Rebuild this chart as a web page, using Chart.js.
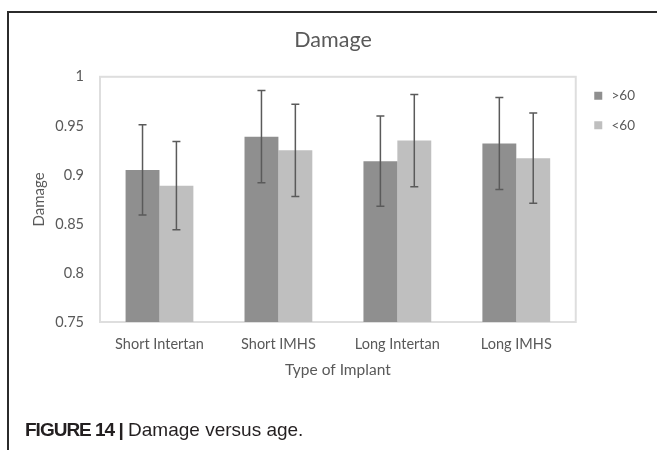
<!DOCTYPE html>
<html>
<head>
<meta charset="utf-8">
<script src="https://cdn.jsdelivr.net/npm/chart.js@4.4.1/dist/chart.umd.min.js"></script>
<style>
  html, body { margin: 0; padding: 0; background: #fff; }
  #wrap { position: relative; width: 657px; height: 450px; overflow: hidden; }
  #frame { position: absolute; left: 7px; top: 11px; width: 660px; height: 450px;
           border-top: 2px solid #2b2b2b; border-left: 2px solid #2b2b2b; }
  #chartBox { position: absolute; left: 0; top: 0; width: 657px; height: 450px; }
  #caption { position: absolute; left: 25px; top: 419px; line-height: 22px;
             font-family: "Liberation Sans Narrow", "Liberation Sans", Arial, sans-serif;
             font-size: 19px; color: #231f20; white-space: nowrap; }
  #caption b { font-weight: bold; letter-spacing: -1px; }
</style>
</head>
<body>
<div id="wrap">
  <div id="frame"></div>
  <div id="chartBox"><canvas id="damageChart"></canvas></div>
  <div id="caption"><b>FIGURE 14 |</b> Damage versus age.</div>
</div>
<script>
// values
const implantTypes = ['Short Intertan', 'Short IMHS', 'Long Intertan', 'Long IMHS'];
const seriesNames = ['>60', '<60'];
const over60 = [0.905, 0.939, 0.914, 0.932];
const under60 = [0.889, 0.925, 0.935, 0.917];
const over60Err = [0.046, 0.047, 0.046, 0.047];
const under60Err = [0.045, 0.047, 0.047, 0.046];
const yTicks = [0.75, 0.8, 0.85, 0.9, 0.95, 1];

const textGrey = '#595959';
const fontFam = 'Lato, "Noto Sans", sans-serif';

// light grey frame round the plot area, like Excel does
const plotBorder = {
    id: 'plotBorder',
    beforeDatasetsDraw(chart) {
        const { ctx, chartArea: a } = chart;
        ctx.save();
        ctx.strokeStyle = '#dedede';
        ctx.lineWidth = 2;
        ctx.strokeRect(a.left, a.top, a.right - a.left, a.bottom - a.top);
        ctx.restore();
    }
};

// error bars, placed with the y scale
const errorBars = {
    id: 'errorBars',
    afterDatasetsDraw(chart) {
        const ctx = chart.ctx;
        const y = chart.scales.y;
        ctx.save();
        ctx.strokeStyle = '#5a5a5a';
        ctx.lineWidth = 1.5;
        chart.data.datasets.forEach((ds, i) => {
            const meta = chart.getDatasetMeta(i);
            meta.data.forEach((bar, j) => {
                const v = ds.data[j];
                const e = ds.errors[j];
                const top = y.getPixelForValue(v + e);
                const bot = y.getPixelForValue(v - e);
                ctx.beginPath();
                ctx.moveTo(bar.x, top); ctx.lineTo(bar.x, bot);
                ctx.moveTo(bar.x - 4, top); ctx.lineTo(bar.x + 4, top);
                ctx.moveTo(bar.x - 4, bot); ctx.lineTo(bar.x + 4, bot);
                ctx.stroke();
            });
        });
        ctx.restore();
    }
};

new Chart(document.getElementById('damageChart'), {
    type: 'bar',
    data: {
        labels: implantTypes,
        datasets: [
            { label: seriesNames[0], data: over60, errors: over60Err, backgroundColor: '#8f8f8f',
              borderWidth: 0, barPercentage: 1, categoryPercentage: 0.57 },
            { label: seriesNames[1], data: under60, errors: under60Err, backgroundColor: '#bfbfbf',
              borderWidth: 0, barPercentage: 1, categoryPercentage: 0.57 }
        ]
    },
    options: {
        responsive: true,
        maintainAspectRatio: false,
        animation: false,
        layout: { padding: { left: 21, right: 12, top: 0, bottom: 60 } },
        plugins: {
            title: {
                display: true, text: 'Damage', color: textGrey,
                font: { family: fontFam, size: 21.5, weight: 'normal' },
                padding: { top: 27, bottom: 24 }
            },
            legend: {
                position: 'right', align: 'start',
                // empty legend title only pushes the entries down beside the plot
                title: { display: true, text: ' ', font: { size: 10 }, padding: { top: 61, bottom: 0 } },
                labels: {
                    usePointStyle: true, pointStyle: 'rect', boxWidth: 13, boxHeight: 8,
                    padding: 16, color: textGrey, font: { family: fontFam, size: 13.5 }
                }
            },
            tooltip: { enabled: false }
        },
        scales: {
            x: {
                grid: { display: false, drawTicks: false },
                border: { display: false },
                ticks: { color: textGrey, font: { family: fontFam, size: 14.5 }, padding: 14 },
                title: {
                    display: true, text: 'Type of Implant', color: textGrey,
                    font: { family: fontFam, size: 15.5 }, padding: { top: 0, bottom: 11 }
                },
                afterFit: s => { s.height = 68; }
            },
            y: {
                min: 0.75, max: 1,
                afterBuildTicks: s => { s.ticks = yTicks.map(v => ({ value: v })); },
                grid: { display: false, drawTicks: false },
                border: { display: false },
                ticks: {
                    color: textGrey, font: { family: fontFam, size: 14.5 }, padding: 16,
                    callback: v => String(+v.toFixed(2))
                },
                title: {
                    display: true, text: 'Damage', color: textGrey,
                    font: { family: fontFam, size: 15 }, padding: { top: 9, bottom: 0 }
                },
                afterFit: s => { s.width = 79; }
            }
        }
    },
    plugins: [plotBorder, errorBars]
});
</script>
</body>
</html>
